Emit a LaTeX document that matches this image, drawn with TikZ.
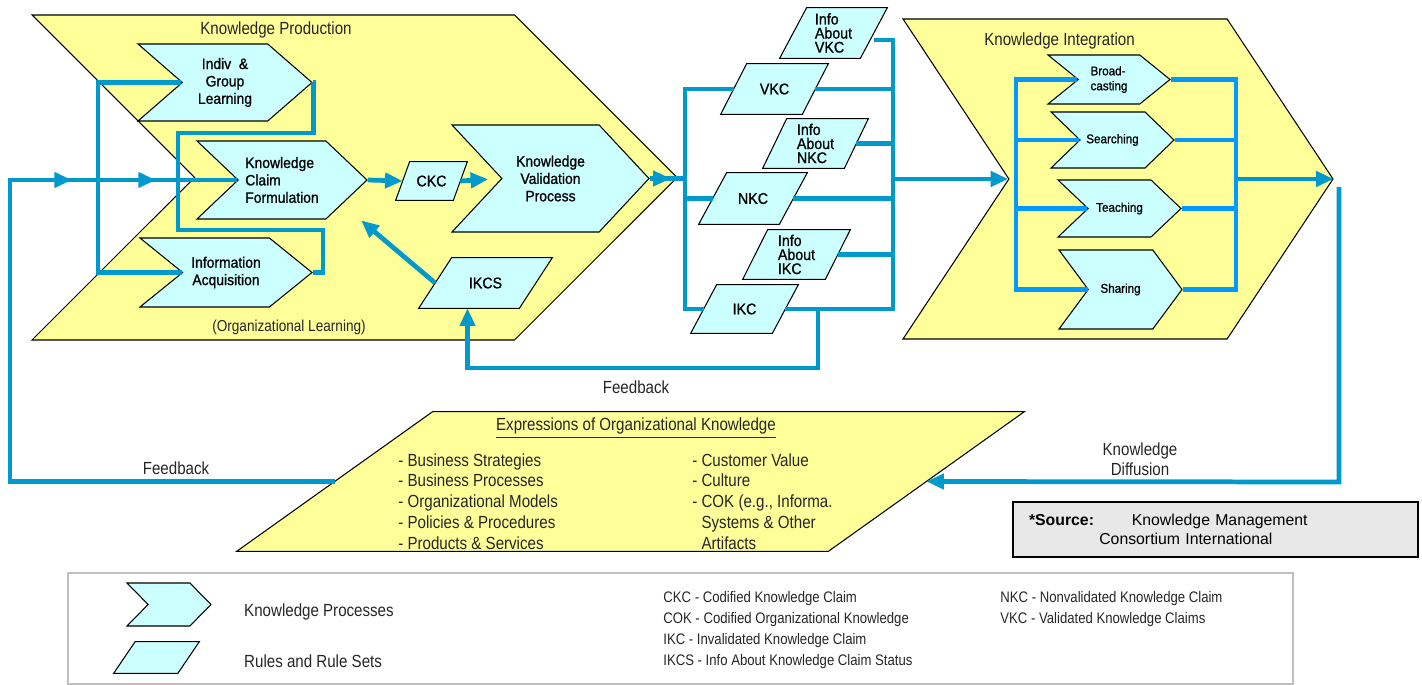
\documentclass[tikz,border=0pt]{standalone}
\usepackage{fontspec}
\setmainfont{Liberation Sans}[FakeStretch=0.86]
\newfontfamily\procfont{Liberation Sans}[FakeStretch=0.92,FakeBold=1]
\newfontfamily\srcfont{Liberation Sans}
\usepackage{tikz}
\usetikzlibrary{positioning,calc,arrows.meta,backgrounds}
\usetikzlibrary{shapes.symbols,decorations.markings}

\definecolor{kmyellow}{RGB}{255,255,153}
\definecolor{kmcyan}{RGB}{204,255,255}
\definecolor{kmblue}{RGB}{0,153,204}
\definecolor{kmbright}{RGB}{0,153,255}
\definecolor{kmgray}{RGB}{232,232,232}

\newlength{\pxl}
\setlength{\pxl}{0.02cm}

\begin{document}
\begin{tikzpicture}[x = 0.02cm, y = -0.02cm,
                    > = {Triangle[length=10pt,width=8.5pt]},
                    area/.style  = {signal,
                                    signal to = east,
                                    signal from = west,
                                    draw = black,
                                    line width = 0.6pt,
                                    fill = kmyellow,
                                    inner sep = 2pt},
                    proc/.style  = {signal,
                                    signal to = east,
                                    signal from = west,
                                    draw = black,
                                    line width = 0.6pt,
                                    fill = kmcyan,
                                    inner sep = 0pt,
                                    align = center,
                                    font = \procfont\fontsize{8.6}{9.9}\selectfont},
                    smallproc/.style = {proc,
                                    font = \procfont\fontsize{7.2}{8.5}\selectfont},
                    rule/.style  = {rectangle,
                                    inner sep = 0pt,
                                    align = left,
                                    font = \procfont\fontsize{8.8}{8}\selectfont},
                    rulebox/.style = {draw = black,
                                    line width = 0.6pt,
                                    fill = kmcyan},
                    flow/.style  = {color = kmblue, line width = 2.7pt},
                    kiflow/.style = {color = kmbright, line width = 2.5pt},
                    arrowat/.style = {postaction = {decorate,
                                    decoration = {markings,
                                    mark = at position #1 with {\arrow{>}}}}},
                    note/.style  = {text = black!85,
                                    font = \fontsize{10}{11.5}\selectfont},
                    abbr/.style  = {text = black!85,
                                    align = left,
                                    anchor = north west,
                                    inner sep = 0pt,
                                    font = \fontsize{8.7}{11.9}\selectfont}]

\useasboundingbox (0,0) rectangle (1422,685);

% areas
\begin{pgfonlayer}{background}
\node[area, minimum width = 645\pxl, minimum height = 325\pxl,
      signal pointer angle = 90] (kp) at (354.5,177.5) {};
\node[area, minimum width = 430\pxl, minimum height = 320\pxl,
      signal pointer angle = 113] (ki) at (1118,179) {};
\end{pgfonlayer}
\node[rule, minimum width = 591\pxl, minimum height = 139\pxl] (eok) at (630.5,481.5) {};

\node[note] (kptitle) at (276,30) {Knowledge Production};
\node[note, font = \fontsize{9}{11}\selectfont] (kpsub) at (289,327) {(Organizational Learning)};
\node[note] (kititle) at (1059.5,41) {Knowledge Integration};

% knowledge production
\node[proc, minimum width = 174\pxl, minimum height = 77\pxl,
      signal pointer angle = 82] (indiv) at (225,82.5) {Indiv~~\&\\Group\\Learning};
\node[proc, minimum width = 170\pxl, minimum height = 78\pxl,
      signal pointer angle = 87, align = left] (kcf) at (282,180) {Knowledge\\Claim\\Formulation};
\node[proc, minimum width = 172\pxl, minimum height = 69\pxl,
      signal pointer angle = 78] (ia) at (226,272.5) {Information\\Acquisition};
\node[proc, minimum width = 197\pxl, minimum height = 107\pxl,
      signal pointer angle = 94] (kvp) at (550.5,178.5) {Knowledge\\Validation\\Process};

\node[rule, minimum width = 57\pxl, minimum height = 38\pxl] (ckc) at (431.5,181) {CKC};
\node[rule, minimum width = 100\pxl, minimum height = 50\pxl] (ikcs) at (485.5,283) {IKCS};

% claims
\node[rule, minimum width = 80\pxl, minimum height = 50\pxl] (ivkc) at (833.5,33) {Info\\About\\VKC};
\node[rule, minimum width = 81\pxl, minimum height = 50\pxl] (vkc)  at (774.5,89) {VKC};
\node[rule, minimum width = 81\pxl, minimum height = 49\pxl] (inkc) at (815.5,143.5) {Info\\About\\NKC};
\node[rule, minimum width = 80\pxl, minimum height = 51\pxl] (nkc)  at (753,198.5) {NKC};
\node[rule, minimum width = 82\pxl, minimum height = 49\pxl] (iikc) at (796.5,254.5) {Info\\About\\IKC};
\node[rule, minimum width = 81\pxl, minimum height = 48\pxl] (ikc)  at (744.5,309) {IKC};

% knowledge integration
\node[smallproc, minimum width = 122\pxl, minimum height = 49\pxl,
      signal pointer angle = 78, align = left] (bc) at (1109,79.5) {Broad-\\casting};
\node[smallproc, minimum width = 123\pxl, minimum height = 56\pxl,
      signal pointer angle = 88] (se) at (1112.5,140) {Searching};
\node[smallproc, minimum width = 123\pxl, minimum height = 57\pxl,
      signal pointer angle = 87] (te) at (1119.5,208.5) {Teaching};
\node[smallproc, minimum width = 123\pxl, minimum height = 79\pxl,
      signal pointer angle = 107] (sh) at (1120.5,289.5) {Sharing};

% legend
\node[draw = black!25, line width = 0.8pt, minimum width = 1225\pxl,
      minimum height = 111\pxl, inner sep = 0pt] (legend) at (680.5,628.5) {};
\node[proc, inner sep = 2pt, minimum width = 84\pxl, minimum height = 43\pxl,
      signal pointer angle = 91] (lgproc) at (169,604.5) {};
\node[rule, minimum width = 63.5\pxl, minimum height = 31\pxl] (lgrule) at (156.5,657.5) {};
\node[note, anchor = west] (lgproctext) at (238,612) {Knowledge Processes};
\node[note, anchor = west] (lgruletext) at (238,661) {Rules and Rule Sets};

% rule and rule set outlines
\begin{pgfonlayer}{background}
\foreach \n/\hs in {ckc/7, ikcs/16.5, ivkc/13.5, vkc/13, inkc/12, nkc/14, iikc/12.5, ikc/13, lgrule/10.75}
  \draw[rulebox] ([xshift=-\hs\pxl]\n.south west) -- ([xshift=\hs\pxl]\n.north west)
    -- ([xshift=\hs\pxl]\n.north east) -- ([xshift=-\hs\pxl]\n.south east) -- cycle;
\draw[rulebox, fill = kmyellow] ([xshift=-98\pxl]eok.south west) -- ([xshift=98\pxl]eok.north west)
  -- ([xshift=98\pxl]eok.north east) -- ([xshift=-98\pxl]eok.south east) -- cycle;
\end{pgfonlayer}

\coordinate (lbx) at (98,0);
\coordinate (rcl) at (685,0);
\coordinate (rcr) at (893,0);
\coordinate (kil) at (1016,0);
\coordinate (kir) at (1236,0);
\coordinate (fbl) at (10,180);
\coordinate (fbr) at (818,368);
\coordinate (dtop) at (1339,187);
\coordinate (dbot) at (1339,482);

% production flows
\draw[flow] (indiv.west) -| (lbx |- ia.west) -- (ia.west);
\draw[flow] (indiv.east) -- ++(1,0) |- (178,133) |- (323,230) |- (ia.east);
\draw[flow,->] (kcf.east) -- (ckc.west);
\draw[flow,->,shorten >=13\pxl] (ckc.east) -- (kvp.west);
\draw[flow,->,shorten >=25\pxl] (ikcs.west) -- (kcf.-22);
\draw[flow, arrowat=21\pxl] (kvp.east) -- (rcl |- kvp.east);

% claims flows
\draw[flow] (vkc.west) -| (rcl |- ikc.west) -- (ikc.west);
\draw[flow] (nkc.west) -- (rcl |- nkc.west);
\draw[flow] ([yshift=-7\pxl]ivkc.east) -| (rcr |- ikc.east) -- (ikc.east);
\foreach \n in {vkc, inkc, nkc, iikc}
  \draw[flow] (\n.east) -- (rcr |- \n.east);
\draw[flow,->] (rcr |- ki.west) -- (ki.west);
\draw[flow,->] (fbr |- ikc.east) -- (fbr) -| ([xshift=-18\pxl]ikcs.south);
\node[note] (fbup) at (636,387) {Feedback};

% integration flows
\draw[kiflow] (bc.west) -| (kil |- sh.west) -- (sh.west);
\draw[kiflow] (bc.east) -| (kir |- sh.east) -- (sh.east);
\foreach \n in {se, te} {
  \draw[kiflow] (\n.west) -- (kil |- \n.west);
  \draw[kiflow] (\n.east) -- (kir |- \n.east);
}
\draw[flow,->] (kir |- ki.east) -- (ki.east);

% diffusion and feedback
\draw[flow,->] (dtop) -- (dbot) -- (eok.east);
\node[note, align = center] (diff) at (1140,459) {Knowledge\\Diffusion};
\draw[flow, arrowat=688\pxl, arrowat=772\pxl] (eok.west) -| (fbl) -- (kcf.west);
\node[note] (fblow) at (176,468) {Feedback};

% expressions
\node[note] (eoktitle) at (636,428) {\underline{Expressions of Organizational Knowledge}};
\node[note, align = left, anchor = north west, inner sep = 0pt,
      font = \fontsize{10}{11.9}\selectfont] (eokleft) at (398,453)
      {- Business Strategies\\- Business Processes\\- Organizational Models\\- Policies \& Procedures\\- Products \& Services};
\node[note, align = left, anchor = north west, inner sep = 0pt,
      font = \fontsize{10}{11.9}\selectfont] (eokright) at (692,453)
      {- Customer Value\\- Culture\\- COK (e.g., Informa.\\\hphantom{- }Systems \& Other\\\hphantom{- }Artifacts};

% source
\node[draw = black, line width = 0.9pt, fill = kmgray,
      minimum width = 405\pxl, minimum height = 55\pxl,
      text width = 373\pxl, align = left, inner sep = 0pt,
      font = \srcfont\fontsize{9}{10.8}\selectfont] (source) at (1215.5,529.5)
      {\textbf{*Source:}\hspace{21.5pt}Knowledge Management\\\hspace*{40pt}Consortium International};

\node[abbr] (abbra) at (663,591)
      {CKC - Codified Knowledge Claim\\COK - Codified Organizational Knowledge\\IKC - Invalidated Knowledge Claim\\IKCS - Info About Knowledge Claim Status};
\node[abbr] (abbrb) at (1000,591)
      {NKC - Nonvalidated Knowledge Claim\\VKC - Validated Knowledge Claims};

\end{tikzpicture}
\end{document}
